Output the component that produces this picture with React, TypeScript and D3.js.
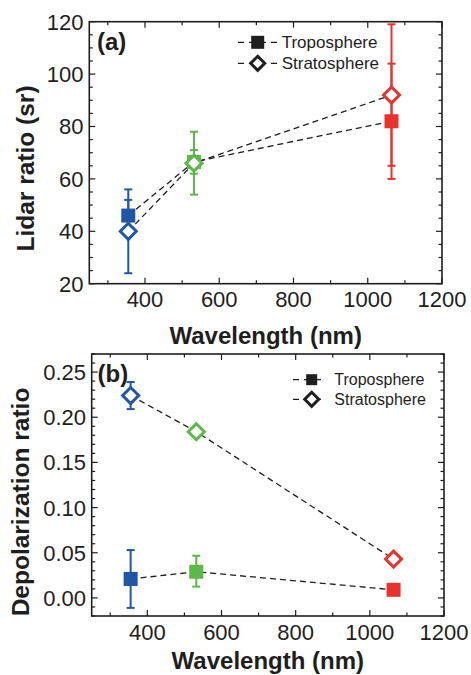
import React from 'react';
import * as d3 from 'd3';

const wavelengths = [355, 532, 1064];
const pointColors = ['#1f56a6', '#5cb848', '#e8322d'];
const seriesNames = ['Troposphere', 'Stratosphere'];

const lidarTropo = [46, 66.5, 82];
const lidarTropoLow = [40, 62, 60];
const lidarTropoHigh = [52, 71, 104];
const lidarStrato = [40, 66, 92];
const lidarStratoLow = [24, 54, 65];
const lidarStratoHigh = [56, 78, 119];

const depolTropo = [0.021, 0.029, 0.009];
const depolTropoLow = [-0.011, 0.0125, 0.006];
const depolTropoHigh = [0.053, 0.0467, 0.012];
const depolStrato = [0.224, 0.184, 0.043];
const depolStratoLow = [0.209, 0.184, 0.043];
const depolStratoHigh = [0.239, 0.184, 0.043];

const xTicks = [400, 600, 800, 1000, 1200];
const lidarTicks = [20, 40, 60, 80, 100, 120];
const depolTicks = [0, 0.05, 0.1, 0.15, 0.2, 0.25];

const FONT = '"Liberation Sans", Arial, Helvetica, sans-serif';
const INK = '#1e1e1e';

type PanelProps = {
  left: number; right: number; top: number; bottom: number;
  yDomain: [number, number]; yTicks: number[]; yMinorStep: number; yFmt: (v: number) => string;
  tropo: number[]; tropoLow: number[]; tropoHigh: number[];
  strato: number[]; stratoLow: number[]; stratoHigh: number[];
  label: string; labelX: number; labelY: number;
  yTitle: string; yTitleX: number; yTitleY: number; yTitleSize: number;
  xTickY: number; xTitleY: number; yTickX: number;
  legX0: number; legX1: number; legMx: number; legTx: number; legY: number[]; legSize: number;
  legSq: number; legDia: number;
};

function diamond(cx: number, cy: number, r: number) {
  return `M${cx},${cy - r}L${cx + r},${cy}L${cx},${cy + r}L${cx - r},${cy}Z`;
}

function Panel(p: PanelProps) {
  const x = d3.scaleLinear().domain([250, 1200]).range([p.left, p.right]);
  const y = d3.scaleLinear().domain(p.yDomain).range([p.bottom, p.top]);
  const xMinor = d3.range(300, 1200.1, 100);
  const yMinor = d3.range(Math.ceil(p.yDomain[0] / p.yMinorStep) * p.yMinorStep, p.yDomain[1] + 1e-9, p.yMinorStep);
  const line = d3.line<number>().x((_, i) => x(wavelengths[i])).y((d) => y(d));
  const sq = 14;
  const dr = 8;
  const cap = 4;
  const errBar = (i: number, lo: number, hi: number, key: string) => {
    if (hi - lo < 1e-9) return null;
    const cx = x(wavelengths[i]);
    return (
      <g key={key} stroke={pointColors[i]} strokeWidth={2}>
        <line x1={cx} x2={cx} y1={y(lo)} y2={y(hi)} />
        <line x1={cx - cap} x2={cx + cap} y1={y(lo)} y2={y(lo)} />
        <line x1={cx - cap} x2={cx + cap} y1={y(hi)} y2={y(hi)} />
      </g>
    );
  };
  return (
    <g>
      {/* ticks */}
      <g stroke={INK} strokeWidth={1.2}>
        {xMinor.map((v) => {
          const major = xTicks.includes(v);
          const len = major ? 6 : 3.5;
          return (
            <g key={'xt' + v}>
              <line x1={x(v)} x2={x(v)} y1={p.bottom} y2={p.bottom - len} />
              <line x1={x(v)} x2={x(v)} y1={p.top} y2={p.top + len} />
            </g>
          );
        })}
        {yMinor.map((v) => {
          const major = p.yTicks.some((t) => Math.abs(t - v) < 1e-9);
          const len = major ? 6 : 3.5;
          return (
            <g key={'yt' + v}>
              <line x1={p.left} x2={p.left + len} y1={y(v)} y2={y(v)} />
              <line x1={p.right} x2={p.right - len} y1={y(v)} y2={y(v)} />
            </g>
          );
        })}
      </g>
      <rect x={p.left} y={p.top} width={p.right - p.left} height={p.bottom - p.top} fill="none" stroke={INK} strokeWidth={1.6} />
      {/* tick labels */}
      <g fontFamily={FONT} fontSize={22} fill={INK}>
        {xTicks.map((v) => (
          <text key={'xl' + v} x={x(v)} y={p.xTickY} textAnchor="middle">{v}</text>
        ))}
        {p.yTicks.map((v) => (
          <text key={'yl' + v} x={p.yTickX} y={y(v)} dy="0.36em" textAnchor="end">{p.yFmt(v)}</text>
        ))}
      </g>
      {/* titles */}
      <text x={(p.left + p.right) / 2} y={p.xTitleY} textAnchor="middle" fontFamily={FONT} fontWeight="bold" fontSize={24} fill={INK}>Wavelength (nm)</text>
      <text transform={`translate(${p.yTitleX},${p.yTitleY}) rotate(-90)`} textAnchor="middle" fontFamily={FONT} fontWeight="bold" fontSize={p.yTitleSize} fill={INK}>{p.yTitle}</text>
      <text x={p.labelX} y={p.labelY} fontFamily={FONT} fontWeight="bold" fontSize={24} fill={INK}>{p.label}</text>
      {/* dashed lines */}
      <path d={line(p.tropo) || ''} fill="none" stroke={INK} strokeWidth={1.3} strokeDasharray="6,4" />
      <path d={line(p.strato) || ''} fill="none" stroke={INK} strokeWidth={1.3} strokeDasharray="6,4" />
      {/* error bars */}
      {wavelengths.map((_, i) => errBar(i, p.stratoLow[i], p.stratoHigh[i], 'es' + i))}
      {wavelengths.map((_, i) => errBar(i, p.tropoLow[i], p.tropoHigh[i], 'et' + i))}
      {/* markers */}
      {p.tropo.map((v, i) => (
        <rect key={'sq' + i} x={x(wavelengths[i]) - sq / 2} y={y(v) - sq / 2} width={sq} height={sq} fill={pointColors[i]} />
      ))}
      {p.strato.map((v, i) => (
        <path key={'dm' + i} d={diamond(x(wavelengths[i]), y(v), dr)} fill="#fff" stroke={pointColors[i]} strokeWidth={3} />
      ))}
      {/* legend */}
      {seriesNames.map((name, k) => (
        <g key={'lg' + k}>
          <line x1={p.legX0} x2={p.legX1} y1={p.legY[k]} y2={p.legY[k]} stroke={INK} strokeWidth={1.3} strokeDasharray="6,5" />
          {k === 0 ? (
            <rect x={p.legMx - p.legSq / 2} y={p.legY[k] - p.legSq / 2} width={p.legSq} height={p.legSq} fill={INK} />
          ) : (
            <path d={diamond(p.legMx, p.legY[k], p.legDia)} fill="#fff" stroke={INK} strokeWidth={3} />
          )}
          <text x={p.legTx} y={p.legY[k]} dy="0.35em" fontFamily={FONT} fontSize={p.legSize} fill={INK}>{name}</text>
        </g>
      ))}
    </g>
  );
}

export default function App() {
  return (
    <svg width={471} height={675} style={{ position: 'absolute', left: 0, top: 0, background: '#fff' }}>
      <Panel
        left={89.3} right={442} top={21.7} bottom={283.7}
        yDomain={[20, 120]} yTicks={lidarTicks} yMinorStep={5} yFmt={(v) => String(v)}
        tropo={lidarTropo} tropoLow={lidarTropoLow} tropoHigh={lidarTropoHigh}
        strato={lidarStrato} stratoLow={lidarStratoLow} stratoHigh={lidarStratoHigh}
        label="(a)" labelX={97} labelY={50}
        yTitle="Lidar ratio (sr)" yTitleX={33.5} yTitleY={168.5} yTitleSize={24.5}
        xTickY={307} xTitleY={344} yTickX={83.5}
        legX0={238} legX1={277} legMx={257.7} legTx={281.7} legY={[42.3, 63.3]} legSize={17}
        legSq={13} legDia={7}
      />
      <Panel
        left={91.7} right={444} top={354} bottom={616}
        yDomain={[-0.02, 0.27]} yTicks={depolTicks} yMinorStep={0.01} yFmt={(v) => v.toFixed(2)}
        tropo={depolTropo} tropoLow={depolTropoLow} tropoHigh={depolTropoHigh}
        strato={depolStrato} stratoLow={depolStratoLow} stratoHigh={depolStratoHigh}
        label="(b)" labelX={97.5} labelY={381.5}
        yTitle="Depolarization ratio" yTitleX={28.5} yTitleY={502} yTitleSize={24.5}
        xTickY={640} xTitleY={669} yTickX={86}
        legX0={293} legX1={323} legMx={311.7} legTx={334.3} legY={[379.7, 399.3]} legSize={16}
        legSq={11} legDia={7}
      />
    </svg>
  );
}
